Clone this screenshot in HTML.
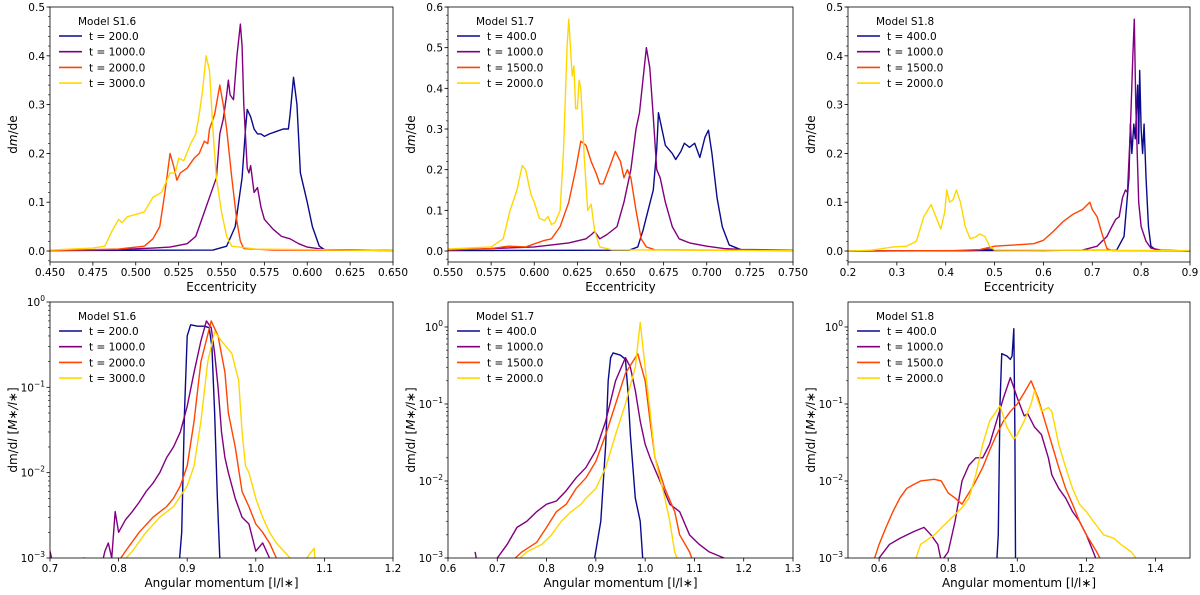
<!DOCTYPE html>
<html><head><meta charset="utf-8">
<style>
html,body{margin:0;padding:0;background:#fff;}
svg{display:block;font-family:"DejaVu Sans","Liberation Sans",sans-serif;}
</style></head>
<body>
<svg id="fig" width="1200" height="595" viewBox="0 0 1200 595"></svg>
<script>
// ---- data: [x, y] pairs ----
// Panel 1: Model S1.6 eccentricity
const p1_t200=[[0.45,0.001],[0.545,0.002],[0.553,0.01],[0.558,0.05],[0.562,0.15],[0.564,0.25],[0.565,0.29],[0.567,0.275],[0.569,0.25],[0.571,0.24],[0.573,0.24],[0.575,0.235],[0.578,0.24],[0.582,0.245],[0.586,0.25],[0.589,0.25],[0.590,0.28],[0.592,0.356],[0.594,0.3],[0.596,0.16],[0.6,0.1],[0.603,0.05],[0.607,0.01],[0.61,0.003],[0.65,0.001]];
const p1_t1000=[[0.45,0.001],[0.49,0.003],[0.51,0.006],[0.52,0.008],[0.53,0.015],[0.535,0.03],[0.54,0.08],[0.544,0.12],[0.547,0.15],[0.549,0.24],[0.551,0.27],[0.553,0.32],[0.554,0.35],[0.555,0.32],[0.557,0.31],[0.559,0.4],[0.561,0.465],[0.562,0.42],[0.563,0.3],[0.565,0.17],[0.566,0.16],[0.567,0.175],[0.569,0.12],[0.571,0.13],[0.573,0.09],[0.575,0.065],[0.58,0.045],[0.585,0.03],[0.59,0.025],[0.595,0.015],[0.6,0.008],[0.61,0.003],[0.65,0.001]];
const p1_t2000=[[0.45,0.001],[0.49,0.004],[0.505,0.01],[0.51,0.025],[0.514,0.05],[0.517,0.12],[0.52,0.2],[0.522,0.175],[0.524,0.145],[0.526,0.16],[0.53,0.17],[0.534,0.19],[0.537,0.2],[0.54,0.225],[0.542,0.22],[0.543,0.25],[0.546,0.28],[0.548,0.32],[0.549,0.34],[0.551,0.3],[0.553,0.25],[0.556,0.15],[0.559,0.06],[0.561,0.02],[0.563,0.005],[0.58,0.002],[0.65,0.001]];
const p1_t3000=[[0.45,0.002],[0.475,0.006],[0.482,0.01],[0.486,0.04],[0.49,0.065],[0.492,0.058],[0.495,0.07],[0.5,0.075],[0.505,0.08],[0.51,0.11],[0.515,0.12],[0.52,0.16],[0.523,0.16],[0.525,0.19],[0.528,0.185],[0.532,0.22],[0.535,0.24],[0.537,0.28],[0.539,0.33],[0.541,0.4],[0.543,0.37],[0.545,0.25],[0.547,0.15],[0.55,0.08],[0.553,0.03],[0.556,0.01],[0.57,0.004],[0.65,0.001]];
// Panel 2: Model S1.7 eccentricity
const p2_t400=[[0.55,0.001],[0.655,0.002],[0.66,0.01],[0.663,0.05],[0.666,0.1],[0.669,0.15],[0.671,0.25],[0.672,0.34],[0.674,0.3],[0.676,0.26],[0.68,0.24],[0.682,0.225],[0.685,0.245],[0.687,0.265],[0.69,0.255],[0.693,0.265],[0.696,0.23],[0.699,0.28],[0.701,0.297],[0.703,0.24],[0.706,0.13],[0.709,0.06],[0.713,0.015],[0.72,0.003],[0.75,0.001]];
const p2_t1000=[[0.55,0.002],[0.6,0.01],[0.62,0.02],[0.63,0.03],[0.633,0.04],[0.635,0.048],[0.638,0.03],[0.642,0.04],[0.648,0.06],[0.652,0.12],[0.656,0.2],[0.659,0.3],[0.661,0.34],[0.663,0.42],[0.665,0.5],[0.667,0.45],[0.669,0.33],[0.671,0.2],[0.673,0.18],[0.676,0.12],[0.68,0.06],[0.684,0.03],[0.69,0.02],[0.7,0.012],[0.71,0.006],[0.72,0.004],[0.75,0.002]];
const p2_t1500=[[0.55,0.003],[0.575,0.006],[0.585,0.012],[0.595,0.01],[0.605,0.025],[0.61,0.03],[0.615,0.06],[0.62,0.12],[0.624,0.2],[0.627,0.27],[0.63,0.26],[0.633,0.22],[0.636,0.19],[0.638,0.165],[0.64,0.165],[0.644,0.21],[0.647,0.245],[0.65,0.22],[0.652,0.18],[0.654,0.2],[0.656,0.18],[0.659,0.1],[0.662,0.03],[0.665,0.01],[0.67,0.003],[0.75,0.001]];
const p2_t2000=[[0.55,0.005],[0.575,0.01],[0.582,0.03],[0.586,0.1],[0.59,0.15],[0.593,0.21],[0.595,0.2],[0.598,0.14],[0.6,0.12],[0.603,0.08],[0.606,0.075],[0.608,0.085],[0.61,0.065],[0.612,0.07],[0.615,0.1],[0.617,0.25],[0.619,0.5],[0.620,0.57],[0.622,0.43],[0.623,0.455],[0.624,0.35],[0.625,0.35],[0.626,0.42],[0.627,0.4],[0.629,0.23],[0.631,0.1],[0.633,0.115],[0.635,0.05],[0.638,0.01],[0.645,0.003],[0.75,0.001]];
// Panel 3: Model S1.8 eccentricity
const p3_t400=[[0.2,0],[0.75,0.002],[0.765,0.03],[0.775,0.15],[0.778,0.26],[0.781,0.2],[0.785,0.26],[0.788,0.23],[0.791,0.3],[0.793,0.34],[0.795,0.22],[0.797,0.37],[0.8,0.25],[0.803,0.2],[0.806,0.26],[0.81,0.15],[0.815,0.05],[0.82,0.01],[0.83,0.002],[0.9,0]];
const p3_t1000=[[0.2,0],[0.45,0.001],[0.49,0.004],[0.5,0.002],[0.6,0.001],[0.68,0.002],[0.71,0.01],[0.72,0.02],[0.73,0.03],[0.74,0.05],[0.748,0.065],[0.755,0.07],[0.762,0.11],[0.768,0.125],[0.772,0.12],[0.778,0.25],[0.783,0.4],[0.786,0.475],[0.789,0.3],[0.795,0.1],[0.8,0.05],[0.81,0.02],[0.82,0.006],[0.84,0.002],[0.9,0]];
const p3_t1500=[[0.2,0],[0.42,0.001],[0.47,0.003],[0.5,0.01],[0.55,0.013],[0.58,0.015],[0.6,0.022],[0.62,0.04],[0.64,0.06],[0.66,0.075],[0.68,0.085],[0.695,0.1],[0.7,0.085],[0.71,0.07],[0.72,0.035],[0.73,0.005],[0.74,0.001],[0.9,0]];
const p3_t2000=[[0.2,0],[0.25,0.002],[0.29,0.008],[0.32,0.01],[0.34,0.02],[0.355,0.07],[0.37,0.095],[0.38,0.07],[0.39,0.045],[0.398,0.08],[0.402,0.125],[0.408,0.1],[0.415,0.105],[0.422,0.125],[0.43,0.1],[0.44,0.05],[0.45,0.025],[0.46,0.028],[0.47,0.035],[0.48,0.03],[0.49,0.01],[0.5,0.002],[0.9,0.001]];
// Panel 4: Model S1.6 angular momentum
const p4_t200=[[0.888,0.0008],[0.892,0.002],[0.896,0.05],[0.9,0.4],[0.905,0.54],[0.915,0.52],[0.925,0.52],[0.932,0.5],[0.936,0.3],[0.94,0.05],[0.944,0.005],[0.948,0.0008]];
const p4_t1000=[[0.70,0.0012],[0.705,0.0008],[0.75,0.001],[0.76,0.0008],[0.775,0.0008],[0.78,0.0012],[0.785,0.0015],[0.79,0.001],[0.795,0.0035],[0.8,0.002],[0.81,0.0028],[0.82,0.0035],[0.83,0.0045],[0.84,0.006],[0.85,0.0075],[0.86,0.01],[0.87,0.015],[0.88,0.02],[0.89,0.03],[0.9,0.06],[0.91,0.15],[0.92,0.35],[0.928,0.6],[0.935,0.5],[0.94,0.25],[0.945,0.1],[0.95,0.03],[0.955,0.015],[0.96,0.01],[0.97,0.005],[0.98,0.003],[0.99,0.0025],[1.0,0.0012],[1.01,0.0015],[1.02,0.001],[1.03,0.0008]];
const p4_t2000=[[0.795,0.0008],[0.81,0.0012],[0.83,0.002],[0.85,0.003],[0.87,0.004],[0.88,0.005],[0.89,0.007],[0.9,0.012],[0.91,0.04],[0.92,0.2],[0.935,0.6],[0.945,0.4],[0.955,0.15],[0.96,0.05],[0.97,0.02],[0.98,0.006],[0.99,0.004],[1.0,0.0025],[1.01,0.002],[1.02,0.0015],[1.03,0.001],[1.04,0.0008]];
const p4_t3000=[[0.8,0.0008],[0.82,0.0012],[0.84,0.002],[0.86,0.003],[0.88,0.004],[0.9,0.007],[0.91,0.012],[0.92,0.04],[0.93,0.2],[0.94,0.45],[0.95,0.35],[0.965,0.25],[0.975,0.12],[0.98,0.03],[0.985,0.012],[0.99,0.01],[1.0,0.005],[1.01,0.003],[1.02,0.002],[1.03,0.0015],[1.05,0.001],[1.065,0.0008],[1.085,0.0013],[1.087,0.0008]];
// Panel 5: Model S1.7 angular momentum
const p5_t400=[[0.895,0.0008],[0.91,0.003],[0.92,0.03],[0.925,0.2],[0.93,0.4],[0.935,0.46],[0.95,0.43],[0.96,0.38],[0.965,0.15],[0.97,0.04],[0.98,0.006],[0.99,0.003],[0.995,0.001],[0.997,0.0008]];
const p5_t1000=[[0.655,0.0012],[0.66,0.0008],[0.7,0.001],[0.72,0.0015],[0.74,0.0025],[0.76,0.003],[0.78,0.004],[0.8,0.005],[0.82,0.0055],[0.84,0.0075],[0.86,0.011],[0.88,0.015],[0.9,0.025],[0.92,0.06],[0.94,0.2],[0.96,0.4],[0.97,0.3],[0.98,0.15],[0.99,0.06],[1.0,0.03],[1.01,0.02],[1.03,0.01],[1.05,0.005],[1.07,0.004],[1.09,0.002],[1.11,0.0015],[1.13,0.0012],[1.16,0.001],[1.17,0.0008]];
const p5_t1500=[[0.72,0.0008],[0.75,0.0012],[0.78,0.0016],[0.8,0.0025],[0.82,0.004],[0.84,0.005],[0.86,0.008],[0.88,0.011],[0.9,0.018],[0.92,0.04],[0.94,0.1],[0.96,0.25],[0.985,0.45],[1.0,0.2],[1.01,0.06],[1.02,0.02],[1.04,0.008],[1.06,0.004],[1.07,0.002],[1.09,0.0012],[1.1,0.0008]];
const p5_t2000=[[0.73,0.0008],[0.76,0.0012],[0.79,0.0015],[0.81,0.002],[0.83,0.003],[0.85,0.004],[0.87,0.005],[0.88,0.006],[0.9,0.008],[0.92,0.015],[0.94,0.04],[0.96,0.1],[0.98,0.3],[0.99,1.15],[1.0,0.3],[1.01,0.08],[1.02,0.02],[1.04,0.006],[1.05,0.003],[1.06,0.0012],[1.07,0.0008]];
// Panel 6: Model S1.8 angular momentum
const p6_t400=[[0.94,0.0008],[0.945,0.002],[0.95,0.1],[0.955,0.45],[0.97,0.42],[0.98,0.38],[0.985,0.42],[0.99,0.95],[0.993,0.05],[0.995,0.0008]];
const p6_t1000=[[0.57,0.0008],[0.6,0.001],[0.63,0.0015],[0.66,0.0018],[0.7,0.0022],[0.73,0.0025],[0.75,0.002],[0.77,0.0015],[0.78,0.0009],[0.8,0.0012],[0.82,0.003],[0.84,0.01],[0.86,0.016],[0.88,0.02],[0.9,0.02],[0.92,0.03],[0.94,0.06],[0.96,0.12],[0.98,0.22],[1.0,0.12],[1.02,0.07],[1.03,0.075],[1.05,0.05],[1.07,0.04],[1.09,0.02],[1.1,0.012],[1.12,0.008],[1.14,0.006],[1.16,0.004],[1.18,0.003],[1.2,0.002],[1.22,0.0012],[1.235,0.0008]];
const p6_t1500=[[0.58,0.0008],[0.6,0.0015],[0.62,0.0025],[0.64,0.004],[0.66,0.006],[0.68,0.008],[0.7,0.009],[0.72,0.01],[0.76,0.0105],[0.78,0.01],[0.8,0.007],[0.82,0.006],[0.84,0.005],[0.86,0.007],[0.88,0.01],[0.9,0.015],[0.92,0.025],[0.94,0.04],[0.96,0.06],[0.98,0.08],[1.0,0.1],[1.02,0.14],[1.04,0.2],[1.06,0.12],[1.08,0.06],[1.1,0.03],[1.12,0.015],[1.14,0.008],[1.16,0.005],[1.18,0.003],[1.2,0.002],[1.23,0.0012],[1.25,0.0008]];
const p6_t2000=[[0.7,0.0008],[0.72,0.0015],[0.76,0.002],[0.8,0.003],[0.84,0.0045],[0.86,0.006],[0.88,0.012],[0.9,0.03],[0.92,0.06],[0.95,0.095],[0.97,0.05],[0.99,0.035],[1.0,0.04],[1.02,0.06],[1.04,0.1],[1.05,0.15],[1.07,0.08],[1.09,0.09],[1.1,0.08],[1.12,0.03],[1.14,0.015],[1.16,0.008],[1.18,0.005],[1.2,0.004],[1.22,0.003],[1.25,0.002],[1.28,0.0018],[1.3,0.0015],[1.33,0.0012],[1.36,0.0008],[1.4,0.001],[1.42,0.0008]];

// tick labels
const p1_xticks=["0.450","0.475","0.500","0.525","0.550","0.575","0.600","0.625","0.650"];
const p2_xticks=["0.550","0.575","0.600","0.625","0.650","0.675","0.700","0.725","0.750"];
const p3_xticks=["0.2","0.3","0.4","0.5","0.6","0.7","0.8","0.9"];
const p4_xticks=["0.7","0.8","0.9","1.0","1.1","1.2"];
const p5_xticks=["0.6","0.7","0.8","0.9","1.0","1.1","1.2","1.3"];
const p6_xticks=["0.6","0.8","1.0","1.2","1.4"];
const p1_yticks=["0.0","0.1","0.2","0.3","0.4","0.5"];
const p2_yticks=["0.0","0.1","0.2","0.3","0.4","0.5","0.6"];
const p3_yticks=["0.0","0.1","0.2","0.3","0.4","0.5"];
const logExps=[-3,-2,-1,0];

const legendTimesA=["t = 200.0","t = 1000.0","t = 2000.0","t = 3000.0"];
const legendTimesB=["t = 400.0","t = 1000.0","t = 1500.0","t = 2000.0"];
const COLORS=["#0a0a8c","#800080","#ff4500","#ffd700"];

const NS="http://www.w3.org/2000/svg";
const svg=document.getElementById('fig');
function mk(tag,attrs,parent){const e=document.createElementNS(NS,tag);for(const k in attrs)e.setAttribute(k,attrs[k]);(parent||svg).appendChild(e);return e;}

let clipId=0;
function panel(cfg){
  const g=mk('g',{});
  
  
  const L=cfg.L,R=cfg.R,T=cfg.T,B=cfg.B;
  const sx=v=>L+(v-cfg.x0)/(cfg.x1-cfg.x0)*(R-L);
  let sy;
  if(cfg.log){const l0=Math.log10(cfg.y0),l1=Math.log10(cfg.y1);sy=v=>B-(Math.log10(Math.max(v,1e-6))-l0)/(l1-l0)*(B-T);}
  else sy=v=>B-(v-cfg.y0)/(cfg.y1-cfg.y0)*(B-T);
  const id='c'+(clipId++);
  const cp=mk('clipPath',{id:id},g);mk('rect',{x:L,y:T,width:R-L,height:B-T},cp);
  // series
  cfg.series.forEach((s,i)=>{
    const d=s.map((p,j)=>(j?'L':'M')+sx(p[0]).toFixed(2)+','+sy(p[1]).toFixed(2)).join('');
    const path=mk('path',{d:d,fill:'none',stroke:COLORS[i],'stroke-width':1.4,'stroke-linejoin':'round','clip-path':'url(#'+id+')'},g);
    
    
  });
  // frame
  const fr=mk('rect',{x:L,y:T,width:R-L,height:B-T,fill:'none',stroke:'#000','stroke-width':0.8},g);
  
  
  // x ticks
  const xt=cfg.xticks.map(Number);
  cfg.xticks.forEach((lab,i)=>{
    const x=sx(xt[i]);
    mk('line',{x1:x,x2:x,y1:B,y2:B+3.5,stroke:'#000','stroke-width':0.8},g);
    const t=mk('text',{x:x,y:B+14,'font-size':10.5,'text-anchor':'middle',fill:'#000'},g);t.textContent=lab;
    
    
  });
  // y ticks
  if(cfg.log){
    logExps.forEach(e=>{
      const v=Math.pow(10,e);const y=sy(v);
      mk('line',{x1:L,x2:L-3.5,y1:y,y2:y,stroke:'#000','stroke-width':0.8},g);
      const t=mk('text',{x:L-5,y:y+4,'font-size':10.5,'text-anchor':'end',fill:'#000'},g);
      
      
      const a=mk('tspan',{},t);a.textContent='10';
      const b=mk('tspan',{dy:-5,'font-size':7.5},t);b.textContent=e===0?'0':'\u2212'+(-e);
      if(e<0){for(let m=2;m<10;m++){const yy=sy(m*v);if(yy>=T)mk('line',{x1:L,x2:L-2,y1:yy,y2:yy,stroke:'#000','stroke-width':0.6},g);}}
    });
  } else {
    const yt=cfg.yticks.map(Number);
    cfg.yticks.forEach((lab,i)=>{
      const y=sy(yt[i]);
      mk('line',{x1:L,x2:L-3.5,y1:y,y2:y,stroke:'#000','stroke-width':0.8},g);
      const t=mk('text',{x:L-5,y:y+4,'font-size':10.5,'text-anchor':'end',fill:'#000'},g);t.textContent=lab;
      
      
    });
    const step=(yt[1]-yt[0])/5;
    for(let v=cfg.y0;v<=cfg.y1+1e-9;v+=step){const y=sy(Math.round(v/step)*step);if(y>=T&&y<=B)mk('line',{x1:L,x2:L-2,y1:y,y2:y,stroke:'#000','stroke-width':0.6},g);}
  }
  // axis titles
  const xl=mk('text',{x:(L+R)/2,y:B+29,'font-size':12,'text-anchor':'middle',fill:'#000'},g);xl.textContent=cfg.xlabel;
  
  
  const yl=mk('text',{x:0,y:0,'font-size':12,'text-anchor':'middle',fill:'#000',transform:'translate('+(L-33)+','+((T+B)/2)+') rotate(-90)'},g);
  
  
  if(cfg.log){const a=mk('tspan',{},yl);a.textContent='dm/d';const b=mk('tspan',{'font-style':'italic'},yl);b.textContent='l';const c=mk('tspan',{},yl);c.textContent=' [';const d=mk('tspan',{'font-style':'italic'},yl);d.textContent='M\u2217/l\u2217';const e2=mk('tspan',{},yl);e2.textContent=']';}
  else{const a=mk('tspan',{},yl);a.textContent='d';const b=mk('tspan',{'font-style':'italic'},yl);b.textContent='m';const c=mk('tspan',{},yl);c.textContent='/de';}
  // legend
  const lg=mk('g',{},g);
  
  
  const tt=mk('text',{x:L+28,y:T+18,'font-size':10.5,fill:'#000'},lg);tt.textContent=cfg.model;
  cfg.labels.forEach((lab,i)=>{
    const y=T+29+i*15.7;
    const ln=mk('line',{x1:L+9,x2:L+32,y1:y,y2:y,stroke:COLORS[i],'stroke-width':1.6},lg);
    
    
    const t=mk('text',{x:L+39,y:y+4,'font-size':10.5,fill:'#000'},lg);t.textContent=lab;
    
    
  });
}
const TOP={T:7,B:262},BOT={T:302,B:558};
panel({name:'panel-s16-eccentricity',L:50,R:393,...TOP,x0:0.45,x1:0.65,y0:-0.0225,y1:0.5,xticks:p1_xticks,yticks:p1_yticks,series:[p1_t200,p1_t1000,p1_t2000,p1_t3000],labels:legendTimesA,model:'Model S1.6',xlabel:'Eccentricity'});
panel({name:'panel-s17-eccentricity',L:448,R:793,...TOP,x0:0.55,x1:0.75,y0:-0.027,y1:0.6,xticks:p2_xticks,yticks:p2_yticks,series:[p2_t400,p2_t1000,p2_t1500,p2_t2000],labels:legendTimesB,model:'Model S1.7',xlabel:'Eccentricity'});
panel({name:'panel-s18-eccentricity',L:848,R:1190,...TOP,x0:0.2,x1:0.9,y0:-0.0225,y1:0.5,xticks:p3_xticks,yticks:p3_yticks,series:[p3_t400,p3_t1000,p3_t1500,p3_t2000],labels:legendTimesB,model:'Model S1.8',xlabel:'Eccentricity'});
panel({name:'panel-s16-angular-momentum',L:50,R:393,...BOT,log:true,x0:0.7,x1:1.2,y0:1e-3,y1:1,xticks:p4_xticks,series:[p4_t200,p4_t1000,p4_t2000,p4_t3000],labels:legendTimesA,model:'Model S1.6',xlabel:'Angular momentum [l/l\u2217]'});
panel({name:'panel-s17-angular-momentum',L:448,R:793,...BOT,log:true,x0:0.6,x1:1.3,y0:1e-3,y1:2.11,xticks:p5_xticks,series:[p5_t400,p5_t1000,p5_t1500,p5_t2000],labels:legendTimesB,model:'Model S1.7',xlabel:'Angular momentum [l/l\u2217]'});
panel({name:'panel-s18-angular-momentum',L:848,R:1190,...BOT,log:true,x0:0.51,x1:1.5,y0:1e-3,y1:2.11,xticks:p6_xticks,series:[p6_t400,p6_t1000,p6_t1500,p6_t2000],labels:legendTimesB,model:'Model S1.8',xlabel:'Angular momentum [l/l\u2217]'});
</script>
</body></html>
